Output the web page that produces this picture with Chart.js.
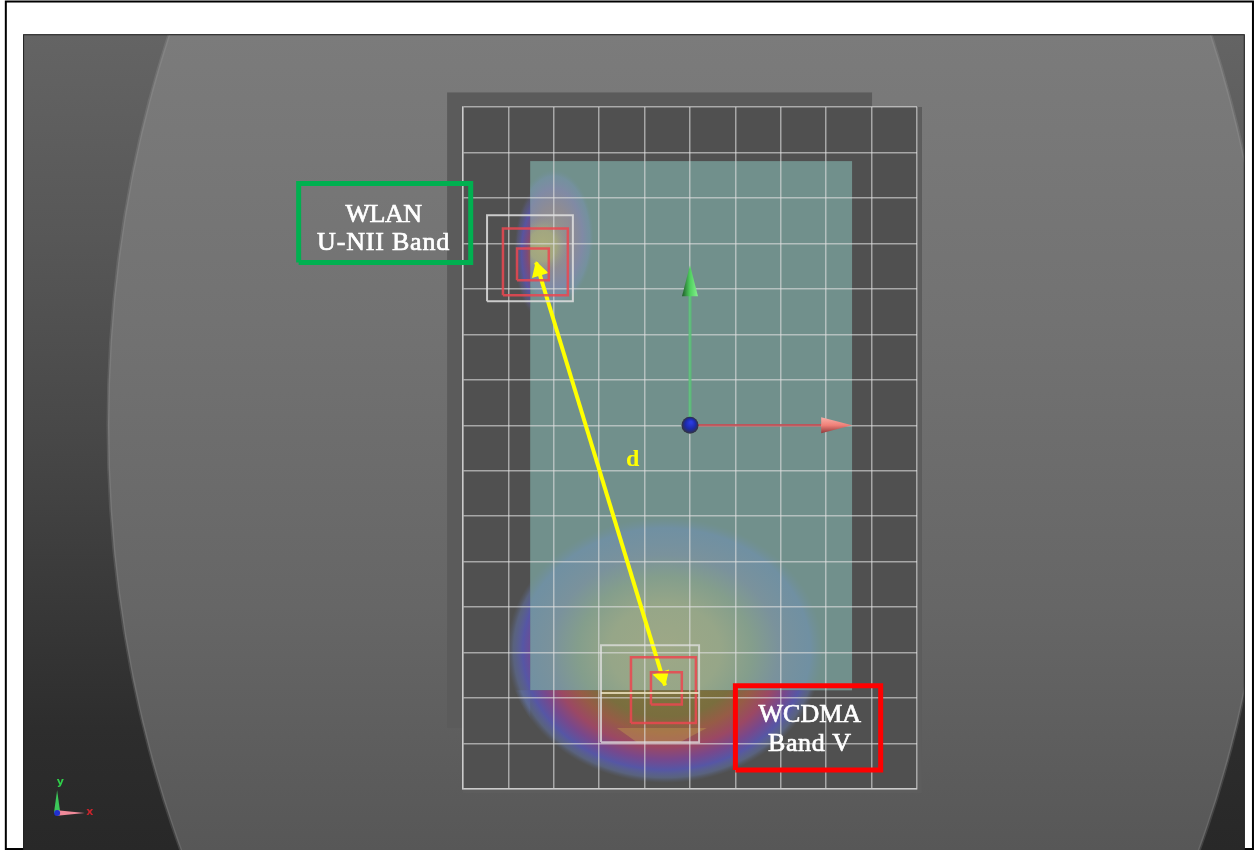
<!DOCTYPE html>
<html>
<head>
<meta charset="utf-8">
<title>WLAN / WCDMA SAR peak spacing</title>
<script src="https://cdn.jsdelivr.net/npm/chart.js@4"></script>
<style>
html, body { margin: 0; padding: 0; background: #fff; overflow: hidden; }
canvas { display: block; }
</style>
</head>
<body>
<canvas id="sarChart" width="1255" height="850"></canvas>
<script>
// everything is in grid units: one grid cell = 10, origin at the blue ball
const gridX = [-50, 50];
const gridY = [-80, 70];

const frameX = [-150.7, 124.0];
const frameY = [-93.2, 93.2];
const panelX = [-146.9, 122.2];
const panelY = [-93.5, 86];
const discRadius = [128.2, 192.9];
const phantomX = [-53.5, 40.1];
const phantomY = [-66.6, 73.2];
const plateEdgeX = [-50, 51.1];
const plateEdgeY = [-80.9, 70];
const boardX = [-35.2, 35.7];
const boardY = [-58.3, 58.1];

const wlanBoxX = [-86.2, -48.3];
const wlanBoxY = [35.8, 53.2];
const wcdmaBoxX = [10.0, 42.0];
const wcdmaBoxY = [-75.8, -57.3];

const wlanOuterX = [-44.7, -25.8];
const wlanOuterY = [27.3, 46.2];
const wlanMidX = [-41.2, -26.9];
const wlanMidY = [28.6, 43.3];
const wlanInnerX = [-38.1, -31.1];
const wlanInnerY = [31.9, 38.9];

const wcdmaOuterX = [-19.6, 2.0];
const wcdmaOuterY = [-69.7, -48.4];
const wcdmaSplitY = -58.9;
const wcdmaMidX = [-13.0, 1.3];
const wcdmaMidY = [-65.5, -51.0];
const wcdmaInnerX = [-8.6, -1.8];
const wcdmaInnerY = [-61.4, -54.3];

const arrowX = [-33.9, -5.5];
const arrowY = [35.8, -57.2];
const arrowHeadX = [-33.3, -6.1];
const arrowHeadY = [34.0, -55.3];
const arrowHeadTurn = [-17, 163];

const axisGreenY = [0, 29.7];
const axisRedX = [0, 28.9];
const coneGreenX = [0, -1.76, 1.76];
const coneGreenY = [35.2, 28.4, 28.4];
const coneRedX = [35.7, 28.9, 28.9];
const coneRedY = [0, 1.76, -1.76];

const triadOrigin = [-139.4, -85.3];
const triadGreenTip = [-139.4, -80.3];
const triadRedTip = [-133.3, -85.3];

const lowerBlob = [-5.5, -49.5, 34.8, 29.2];
const upperHalo = [-30.0, 41.3, 8.8, 15.0];
const upperCore = [-32.5, 39.5, 5.5, 6.2];
const upperPlateSpot = [-33.0, 38.0, 5.7, 14.5];
const hotBandX = [-16.1, 3.7, -2.2, -11.7];
const hotBandY = [-66.6, -66.6, -69.7, -69.7];

const labels = [
    { text: 'WLAN', x: -67.5, y: 46.3, color: '#fff', font: '26px "Liberation Serif"', gap: '-0.5px', heavy: 0.7 },
    { text: 'U-NII Band', x: -67.5, y: 40.1, color: '#fff', font: '26px "Liberation Serif"', gap: '0.8px', heavy: 0.7 },
    { text: 'WCDMA', x: 26.4, y: -63.8, color: '#fff', font: '26px "Liberation Serif"', gap: '0px', heavy: 0.7 },
    { text: 'Band V', x: 26.4, y: -70.2, color: '#fff', font: '26px "Liberation Serif"', gap: '0.6px', heavy: 0.7 },
    { text: 'd', x: -12.6, y: -7.5, color: '#ffff00', font: 'bold 24px "Liberation Serif"', gap: '0px', heavy: 0 },
    { text: 'y', x: -138.7, y: -78.5, color: '#2fd04a', font: 'bold 11px "DejaVu Sans"', gap: '0px', heavy: 0 },
    { text: 'x', x: -132.2, y: -85.0, color: '#c8242c', font: 'bold 11px "DejaVu Sans"', gap: '0px', heavy: 0 }
];

function box(xs, ys) {
    return [
        { x: xs[0], y: ys[0] }, { x: xs[1], y: ys[0] },
        { x: xs[1], y: ys[1] }, { x: xs[0], y: ys[1] },
        { x: xs[0], y: ys[0] }
    ];
}

function outline(name, xs, ys, color, width) {
    return {
        label: name,
        data: box(xs, ys),
        showLine: true,
        borderColor: color,
        borderWidth: width,
        pointRadius: 0,
        clip: false,
        borderJoinStyle: 'miter'
    };
}

function rectFill(ctx, s, xs, ys, fill) {
    const left = s.x.getPixelForValue(xs[0]);
    const right = s.x.getPixelForValue(xs[1]);
    const top = s.y.getPixelForValue(ys[1]);
    const bottom = s.y.getPixelForValue(ys[0]);
    ctx.fillStyle = fill;
    ctx.fillRect(left, top, right - left, bottom - top);
}

function polygon(ctx, s, xs, ys, fill) {
    ctx.beginPath();
    xs.forEach((v, i) => {
        const px = s.x.getPixelForValue(v);
        const py = s.y.getPixelForValue(ys[i]);
        if (i === 0) ctx.moveTo(px, py); else ctx.lineTo(px, py);
    });
    ctx.closePath();
    ctx.fillStyle = fill;
    ctx.fill();
}

// elliptical heat spot, clipped to one rectangle
function heatSpot(ctx, s, blob, clipX, clipY, stops) {
    const cx = s.x.getPixelForValue(blob[0]);
    const cy = s.y.getPixelForValue(blob[1]);
    const rx = s.x.getPixelForValue(blob[0] + blob[2]) - cx;
    const ry = cy - s.y.getPixelForValue(blob[1] + blob[3]);
    const left = s.x.getPixelForValue(clipX[0]);
    const right = s.x.getPixelForValue(clipX[1]);
    const top = s.y.getPixelForValue(clipY[1]);
    const bottom = s.y.getPixelForValue(clipY[0]);
    ctx.save();
    ctx.beginPath();
    ctx.rect(left, top, right - left, bottom - top);
    ctx.clip();
    ctx.translate(cx, cy);
    ctx.scale(rx, ry);
    const g = ctx.createRadialGradient(0, 0, 0, 0, 0, 1);
    stops.forEach(st => g.addColorStop(st[0], st[1]));
    ctx.fillStyle = g;
    ctx.beginPath();
    ctx.arc(0, 0, 1, 0, Math.PI * 2);
    ctx.fill();
    ctx.restore();
}

const backdrop = {
    id: 'backdrop',
    beforeDraw(chart) {
        const ctx = chart.ctx;
        const s = chart.scales;
        const top = s.y.getPixelForValue(panelY[1]);
        const bottom = s.y.getPixelForValue(panelY[0]);
        const left = s.x.getPixelForValue(panelX[0]);
        const right = s.x.getPixelForValue(panelX[1]);

        ctx.save();
        ctx.fillStyle = '#fff';
        ctx.fillRect(0, 0, chart.width, chart.height);

        // page frame
        ctx.strokeStyle = '#000';
        ctx.lineWidth = 2;
        ctx.strokeRect(s.x.getPixelForValue(frameX[0]), s.y.getPixelForValue(frameY[1]),
            s.x.getPixelForValue(frameX[1]) - s.x.getPixelForValue(frameX[0]),
            s.y.getPixelForValue(frameY[0]) - s.y.getPixelForValue(frameY[1]));

        // corners behind the disc
        const dark = ctx.createLinearGradient(0, top, 0, bottom);
        dark.addColorStop(0, '#646464');
        dark.addColorStop(0.25, '#575757');
        dark.addColorStop(0.5, '#474747');
        dark.addColorStop(0.85, '#2d2d2d');
        dark.addColorStop(1, '#282828');
        ctx.fillStyle = dark;
        ctx.fillRect(left, top, right - left, bottom - top);

        // disc
        ctx.save();
        ctx.beginPath();
        ctx.rect(left, top, right - left, bottom - top);
        ctx.clip();
        const cx = s.x.getPixelForValue(0);
        const cy = s.y.getPixelForValue(0);
        const light = ctx.createLinearGradient(0, top, 0, bottom);
        light.addColorStop(0, '#7b7b7b');
        light.addColorStop(0.35, '#727272');
        light.addColorStop(0.7, '#666666');
        light.addColorStop(1, '#575757');
        ctx.beginPath();
        ctx.ellipse(cx, cy, s.x.getPixelForValue(discRadius[0]) - cx, cy - s.y.getPixelForValue(discRadius[1]), 0, 0, Math.PI * 2);
        ctx.fillStyle = light;
        ctx.fill();
        ctx.strokeStyle = 'rgba(170,170,170,0.2)';
        ctx.lineWidth = 3;
        ctx.stroke();
        ctx.restore();

        ctx.strokeStyle = '#222';
        ctx.lineWidth = 1;
        ctx.strokeRect(left + 0.5, top + 0.5, right - left - 1, bottom - top);

        // phantom, measurement plate, board
        rectFill(ctx, s, plateEdgeX, plateEdgeY, '#5d5d5d');
        rectFill(ctx, s, phantomX, phantomY, '#5b5b5b');
        rectFill(ctx, s, gridX, gridY, '#505050');
        rectFill(ctx, s, boardX, boardY, '#71908c');

        // heat spots: one colour ramp over the board, one over the plate
        const overBoard = [
            [0, 'rgb(158,168,134)'], [0.35, 'rgb(150,166,136)'], [0.55, 'rgb(132,158,140)'],
            [0.72, 'rgb(122,146,156)'], [0.92, 'rgba(112,144,166,0.85)'], [1, 'rgba(113,144,156,0)']
        ];
        const overPlate = [
            [0, 'rgb(130,122,66)'], [0.5, 'rgb(122,110,62)'], [0.62, 'rgb(150,92,70)'],
            [0.73, 'rgb(155,72,100)'], [0.82, 'rgb(120,72,140)'], [0.9, 'rgb(86,86,165)'], [0.96, 'rgba(95,110,155,0.6)'], [1, 'rgba(90,100,125,0)']
        ];
        heatSpot(ctx, s, lowerBlob, boardX, boardY, overBoard);
        heatSpot(ctx, s, lowerBlob, [gridX[0], boardX[0]], gridY, overPlate);
        heatSpot(ctx, s, lowerBlob, gridX, [gridY[0], boardY[0]], overPlate);
        polygon(ctx, s, hotBandX, hotBandY, 'rgba(190,150,80,0.45)');

        const upperBoard = [
            [0, 'rgb(150,150,140)'], [0.45, 'rgb(142,140,148)'],
            [0.72, 'rgb(128,138,165)'], [0.9, 'rgba(118,145,165,0.7)'], [1, 'rgba(113,144,150,0)']
        ];
        const upperGlow = [
            [0, 'rgb(170,172,125)'], [0.55, 'rgba(165,170,125,0.85)'], [1, 'rgba(150,150,140,0)']
        ];
        const upperPlate = [
            [0, 'rgb(160,125,50)'], [0.3, 'rgb(150,100,60)'], [0.5, 'rgb(125,75,120)'],
            [0.72, 'rgb(88,84,160)'], [0.9, 'rgba(90,90,130,0.55)'], [1, 'rgba(85,85,100,0)']
        ];
        heatSpot(ctx, s, upperHalo, boardX, boardY, upperBoard);
        heatSpot(ctx, s, upperCore, boardX, boardY, upperGlow);
        heatSpot(ctx, s, upperPlateSpot, [gridX[0], boardX[0]], gridY, upperPlate);
        ctx.restore();
    }
};

const overlays = {
    id: 'overlays',
    afterDatasetsDraw(chart) {
        const ctx = chart.ctx;
        const s = chart.scales;
        ctx.save();

        // model axis cones
        const gy = ctx.createLinearGradient(s.x.getPixelForValue(-1.76), 0, s.x.getPixelForValue(1.76), 0);
        gy.addColorStop(0, '#1f5a2a');
        gy.addColorStop(0.5, '#4fd05f');
        gy.addColorStop(1, '#86f08e');
        polygon(ctx, s, coneGreenX, coneGreenY, gy);
        const gr = ctx.createLinearGradient(0, s.y.getPixelForValue(1.76), 0, s.y.getPixelForValue(-1.76));
        gr.addColorStop(0, '#f8b0a8');
        gr.addColorStop(0.5, '#f08078');
        gr.addColorStop(1, '#90383a');
        polygon(ctx, s, coneRedX, coneRedY, gr);

        // origin ball
        const ox = s.x.getPixelForValue(0);
        const oy = s.y.getPixelForValue(0);
        const ball = ctx.createRadialGradient(ox + 1, oy - 3, 1, ox, oy, 8.5);
        ball.addColorStop(0, '#2a3ae0');
        ball.addColorStop(0.55, '#1c2aa8');
        ball.addColorStop(1, '#33343a');
        ctx.fillStyle = ball;
        ctx.beginPath();
        ctx.arc(ox, oy, 8.5, 0, Math.PI * 2);
        ctx.fill();

        // small triad, lower left
        const tx = s.x.getPixelForValue(triadOrigin[0]);
        const ty = s.y.getPixelForValue(triadOrigin[1]);
        polygon(ctx, s, [triadGreenTip[0], triadOrigin[0] - 0.7, triadOrigin[0] + 0.7],
            [triadGreenTip[1], triadOrigin[1], triadOrigin[1]], '#3cc85a');
        polygon(ctx, s, [triadRedTip[0], triadOrigin[0], triadOrigin[0]],
            [triadRedTip[1], triadOrigin[1] + 0.6, triadOrigin[1] - 0.6], '#f08a9a');
        ctx.fillStyle = '#2030d0';
        ctx.beginPath();
        ctx.arc(tx, ty, 3, 0, Math.PI * 2);
        ctx.fill();

        ctx.textAlign = 'center';
        ctx.textBaseline = 'middle';
        labels.forEach(l => {
            const lx = s.x.getPixelForValue(l.x);
            const ly = s.y.getPixelForValue(l.y);
            ctx.font = l.font;
            ctx.letterSpacing = l.gap;
            ctx.fillStyle = l.color;
            ctx.fillText(l.text, lx, ly);
            if (l.heavy) {
                ctx.strokeStyle = l.color;
                ctx.lineWidth = l.heavy;
                ctx.strokeText(l.text, lx, ly);
            }
        });
        ctx.restore();
    }
};

const datasets = [
    outline('WLAN outer', wlanOuterX, wlanOuterY, 'rgba(225,225,225,0.85)', 2),
    outline('WLAN mid', wlanMidX, wlanMidY, 'rgba(235,70,80,0.85)', 2.5),
    outline('WLAN inner', wlanInnerX, wlanInnerY, 'rgba(235,70,80,0.85)', 2.5),
    outline('WCDMA outer', wcdmaOuterX, wcdmaOuterY, 'rgba(225,225,225,0.75)', 2),
    {
        label: 'WCDMA split',
        data: [{ x: wcdmaOuterX[0], y: wcdmaSplitY }, { x: wcdmaOuterX[1], y: wcdmaSplitY }],
        showLine: true,
        borderColor: 'rgba(235,225,190,0.85)',
        borderWidth: 2,
        pointRadius: 0
    },
    outline('WCDMA mid', wcdmaMidX, wcdmaMidY, 'rgba(235,70,80,0.85)', 2.5),
    outline('WCDMA inner', wcdmaInnerX, wcdmaInnerY, 'rgba(235,70,80,0.85)', 2.5),
    {
        label: 'Axis Y',
        data: axisGreenY.map(v => ({ x: 0, y: v })),
        showLine: true,
        borderColor: 'rgba(85,190,115,0.85)',
        borderWidth: 3,
        pointRadius: 0
    },
    {
        label: 'Axis X',
        data: axisRedX.map(v => ({ x: v, y: 0 })),
        showLine: true,
        borderColor: 'rgba(195,80,85,0.9)',
        borderWidth: 2.5,
        pointRadius: 0
    },
    {
        label: 'd',
        data: arrowX.map((v, i) => ({ x: v, y: arrowY[i] })),
        showLine: true,
        borderColor: '#ffff00',
        borderWidth: 4,
        pointRadius: 0
    },
    {
        label: 'd heads',
        data: arrowHeadX.map((v, i) => ({ x: v, y: arrowHeadY[i] })),
        showLine: false,
        pointStyle: 'triangle',
        pointRadius: 10,
        pointRotation: arrowHeadTurn,
        pointBackgroundColor: '#ffff00',
        pointBorderColor: '#ffff00',
        pointBorderWidth: 0
    },
    outline('WLAN U-NII Band', wlanBoxX, wlanBoxY, '#00b050', 5),
    outline('WCDMA Band V', wcdmaBoxX, wcdmaBoxY, '#ff0000', 5)
];

new Chart('sarChart', {
    type: 'scatter',
    data: { datasets: datasets },
    options: {
        responsive: false,
        animation: false,
        devicePixelRatio: 1,
        events: [],
        layout: {
            padding: { left: 463, right: 338, top: 107, bottom: 61 }
        },
        plugins: {
            legend: { display: false },
            tooltip: { enabled: false }
        },
        scales: {
            x: {
                min: gridX[0],
                max: gridX[1],
                ticks: { display: false, stepSize: 10 },
                grid: { color: 'rgba(225,225,225,0.6)', lineWidth: 1.5, drawTicks: false },
                border: { color: 'rgba(225,225,225,0.6)', width: 1.5 }
            },
            y: {
                min: gridY[0],
                max: gridY[1],
                ticks: { display: false, stepSize: 10 },
                grid: { color: 'rgba(225,225,225,0.6)', lineWidth: 1.5, drawTicks: false },
                border: { color: 'rgba(225,225,225,0.6)', width: 1.5 }
            }
        }
    },
    plugins: [backdrop, overlays]
});
</script>
</body>
</html>
